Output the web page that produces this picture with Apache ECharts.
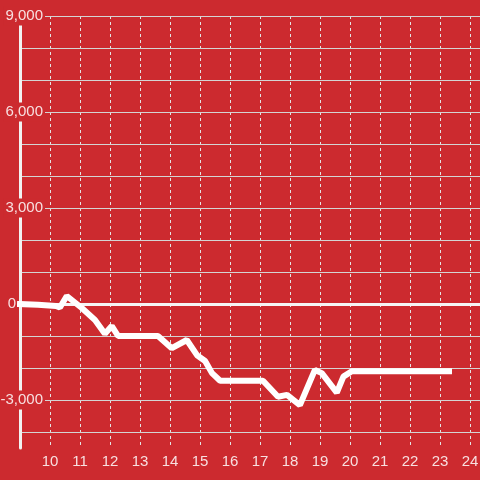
<!DOCTYPE html>
<html>
<head>
<meta charset="utf-8">
<script src="https://cdn.jsdelivr.net/npm/echarts@6/dist/echarts.min.js"></script>
<style>
html,body{margin:0;padding:0;background:#cc2a2f;}
#chart{width:480px;height:480px;}
</style>
</head>
<body>
<div id="chart"></div>
<script>
var hours = [9, 9.6, 10.2, 10.33, 10.56, 11.06, 11.5, 11.83, 12.06, 12.27, 13.6, 14.06, 14.56, 14.9, 15.17, 15.4, 15.67, 17.1, 17.6, 17.9, 18.33, 18.83, 19.06, 19.56, 19.78, 20.06, 23.3];
var values = [0, -20, -60, -110, 250, -125, -500, -930, -690, -1000, -1000, -1380, -1125, -1600, -1780, -2160, -2400, -2400, -2900, -2840, -3160, -2060, -2160, -2770, -2270, -2100, -2100];
var xTicks = [10, 11, 12, 13, 14, 15, 16, 17, 18, 19, 20, 21, 22, 23, 24];
var yTicks = [-3000, 0, 3000, 6000, 9000];

var seriesData = hours.map(function (h, i) { return [h, values[i]]; });
var labelColor = 'rgba(255,255,255,0.85)';
var bg = '#cc2a2f';

var chart = echarts.init(document.getElementById('chart'), null, {renderer: 'canvas'});
chart.setOption({
  backgroundColor: bg,
  animation: false,
  textStyle: {fontFamily: 'Liberation Sans'},
  grid: {left: 20, right: 0, top: 16, bottom: 32, containLabel: false, outerBoundsMode: 'none'},
  xAxis: {
    type: 'value',
    min: 9,
    max: 24.3334,
    interval: 1,
    axisLine: {show: false},
    axisTick: {show: false},
    axisLabel: {
      showMinLabel: false,
      color: labelColor,
      fontSize: 15,
      margin: 6,
      formatter: function (v) { return xTicks.indexOf(v) >= 0 ? String(v) : ''; }
    },
    splitLine: {show: true, lineStyle: {color: '#e4e4e4', width: 1, type: [3, 3]}}
  },
  yAxis: [{
    type: 'value',
    min: -4500,
    max: 9000,
    interval: 500,
    z: 1,
    axisLine: {show: true, lineStyle: {color: '#f2f2f2', width: 3}},
    axisTick: {show: false},
    axisLabel: {show: false},
    splitLine: {show: true, lineStyle: {color: ['rgba(0,0,0,0)', '#d4d4d4'], width: 1}}
  }, {
    type: 'value',
    position: 'left',
    min: -4500,
    max: 9000,
    interval: 500,
    z: 5,
    axisLine: {show: false},
    axisTick: {show: false},
    splitLine: {show: false},
    axisLabel: {
      margin: -25,
      color: labelColor,
      fontSize: 15,
      formatter: function (v) {
        if (yTicks.indexOf(v) < 0) return '';
        if (v === 0) return '{z|0}';
        return '{a|' + v.toLocaleString('en-US') + '}';
      },
      rich: {
        a: {color: labelColor, fontSize: 15, backgroundColor: bg, padding: [2, 2, 2, 2]},
        z: {color: labelColor, fontSize: 15, padding: [2, 29, 2, 0]}
      }
    }
  }],
  series: [{
    type: 'line',
    yAxisIndex: 0,
    data: seriesData,
    showSymbol: false,
    z: 6,
    lineStyle: {color: '#ffffff', width: 6, cap: 'square', join: 'bevel'},
    markLine: {
      silent: true,
      symbol: ['none', 'none'],
      label: {show: false},
      lineStyle: {color: '#f5f5f5', width: 3, type: 'solid'},
      data: [{yAxis: 0}]
    }
  }]
});
</script>
</body>
</html>
